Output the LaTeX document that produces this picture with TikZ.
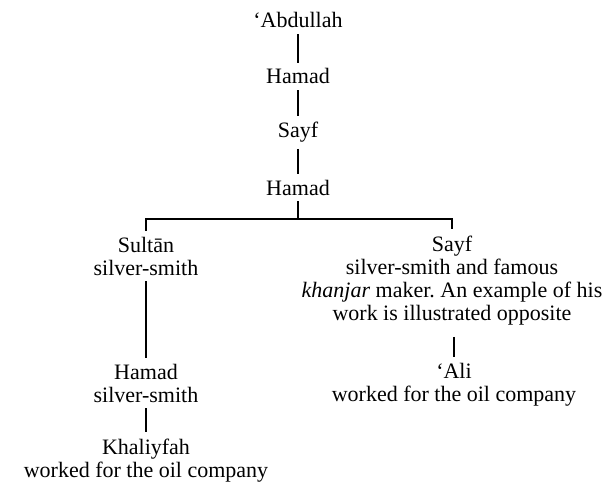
\documentclass[tikz,border=0pt]{standalone}
\usepackage{fontspec}
\setmainfont{Liberation Serif}
\frenchspacing
\begin{document}
\begin{tikzpicture}[x=1pt,y=-1pt,
 person/.style={inner xsep=0pt,inner ysep=6pt,align=center,anchor=base,font=\fontsize{22}{23}\selectfont},
 link/.style={line width=1.2pt}]
\useasboundingbox (0,0) rectangle (603,487);
\fill[white] (0,0) rectangle (603,487);
\node[person] (abd) at (298,28) {‘Abdullah};
\node[person] (ham1) at (298,84) {Hamad};
\node[person] (say1) at (298,138) {Sayf};
\node[person] (ham2) at (298,195) {Hamad};
\node[person] (sul) at (146,275) {Sultān\\silver-smith};
\node[person] (ham3) at (146,402) {Hamad\\silver-smith};
\node[person] (kha) at (146,477) {Khaliyfah\\worked for the oil company};
\node[person] (say2) at (452,320) {Sayf\\silver-smith and famous\\\textit{khanjar} maker. An example of his\\work is illustrated opposite};
\node[person] (ali) at (454,401) {‘Ali\\worked for the oil company};
\coordinate (fork) at (298,219);
\draw[link] (abd) -- (ham1);
\draw[link] (ham1) -- (say1);
\draw[link] (say1) -- (ham2);
\draw[link] (ham2) -- (fork);
\draw[link] (sul) |- (fork) -| (say2);
\draw[link] (sul) -- (ham3);
\draw[link] (ham3) -- (kha);
\draw[link,shorten <=6pt] (say2.south -| ali.north) -- (ali.north);
\end{tikzpicture}
\end{document}
